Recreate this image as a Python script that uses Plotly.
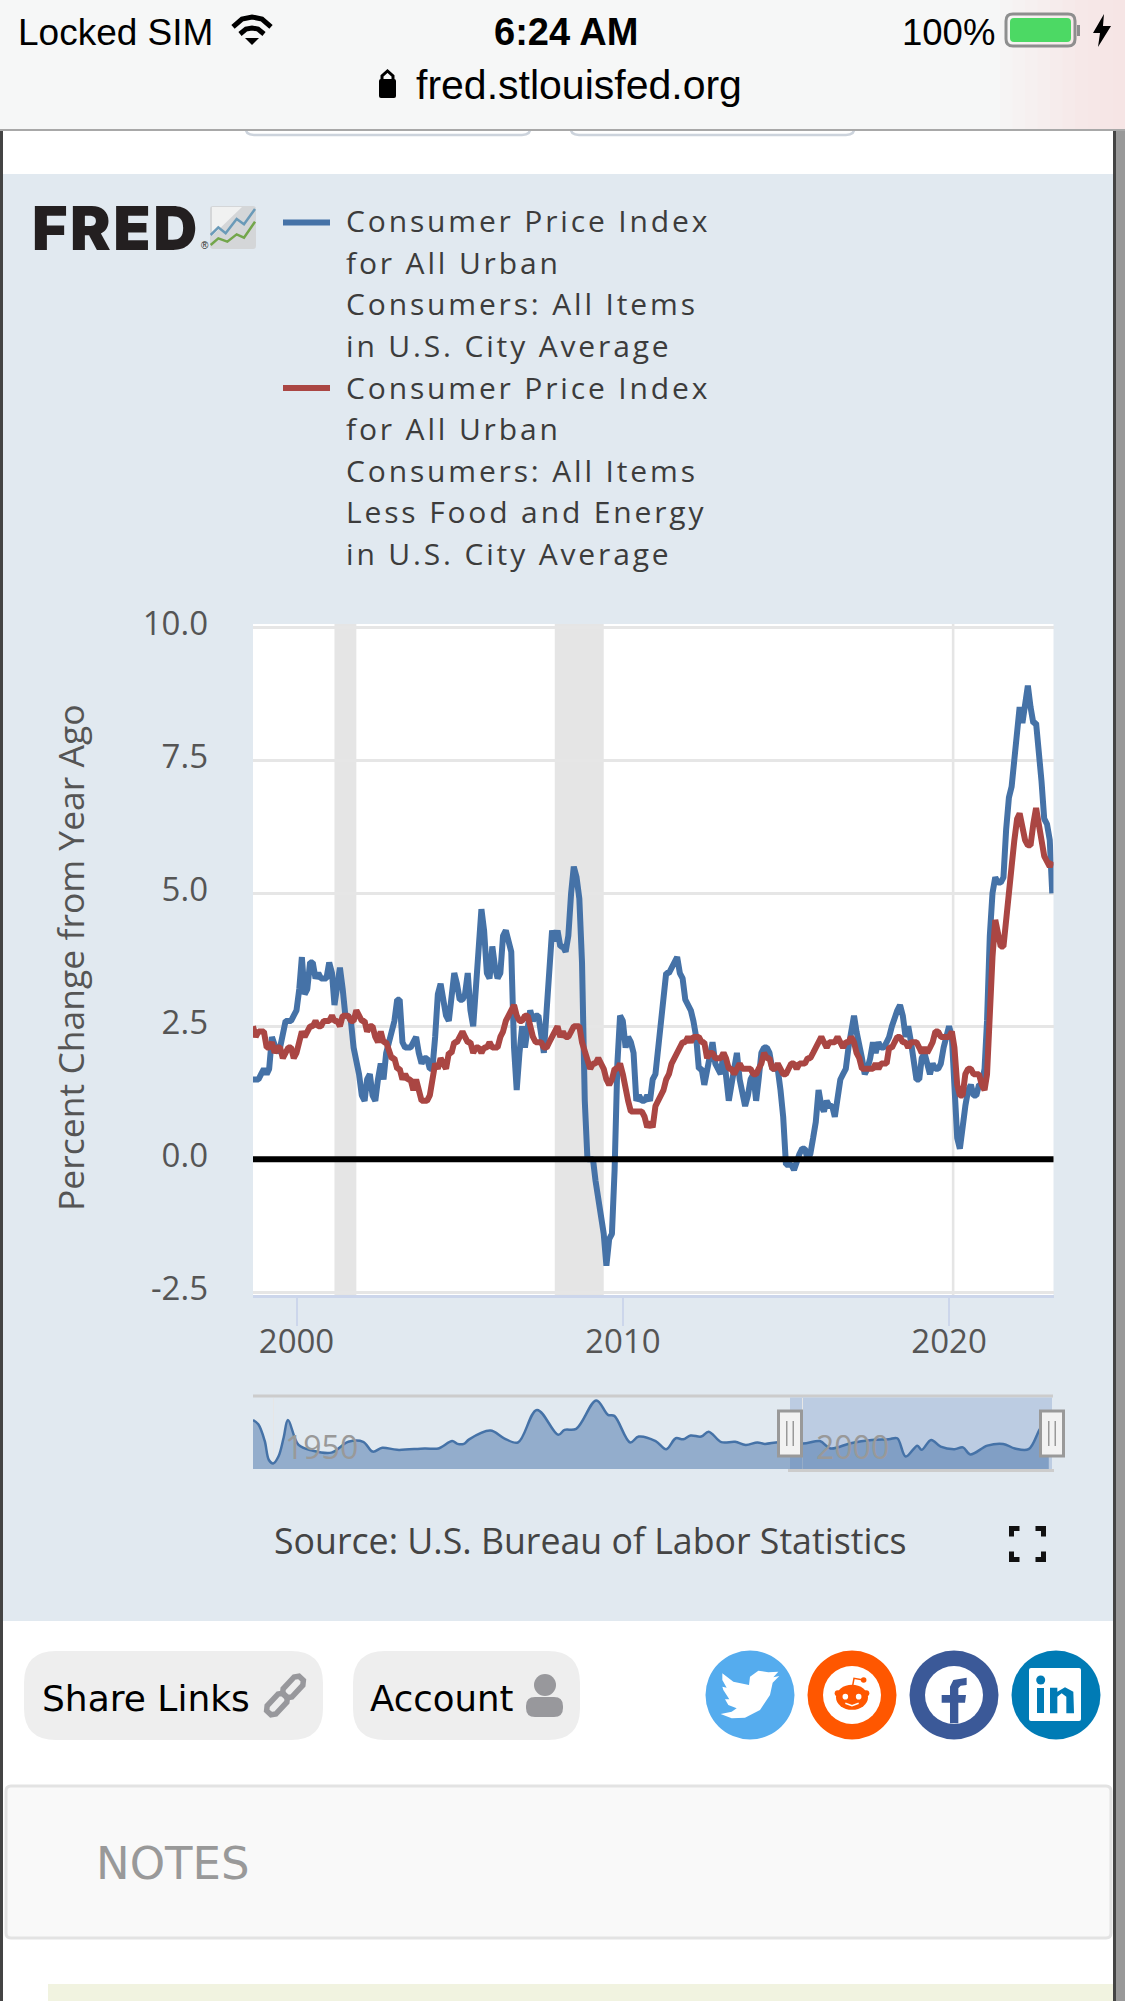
import math

import pandas as pd
import plotly.graph_objects as go

W, H = 1125, 2001

# Monthly percent change from year ago, Sep 1998 - Mar 2023
cpi_all = [
    1.5, 1.5, 1.5, 1.6,
    1.7, 1.6, 1.7, 2.3, 2.1, 2.0, 2.1, 2.3, 2.6, 2.6, 2.6, 2.7,
    2.8, 3.2, 3.8, 3.1, 3.2, 3.7, 3.7, 3.4, 3.5, 3.4, 3.4, 3.4,
    3.7, 3.5, 2.9, 3.3, 3.6, 3.2, 2.7, 2.7, 2.6, 2.1, 1.9, 1.6,
    1.2, 1.1, 1.5, 1.6, 1.2, 1.1, 1.5, 1.8, 1.5, 2.0, 2.2, 2.4,
    2.6, 3.0, 3.0, 2.2, 2.1, 2.1, 2.1, 2.2, 2.3, 2.0, 1.8, 1.9,
    1.9, 1.7, 1.7, 2.3, 3.1, 3.3, 3.0, 2.7, 2.6, 3.2, 3.5, 3.3,
    3.0, 3.0, 3.1, 3.5, 2.8, 2.5, 3.2, 3.6, 4.7, 4.3, 3.5, 3.4,
    4.0, 3.6, 3.4, 3.5, 4.2, 4.3, 4.1, 3.9, 2.1, 1.3, 2.0, 2.5,
    2.1, 2.4, 2.8, 2.6, 2.7, 2.7, 2.4, 2.0, 2.8, 3.5, 4.3, 4.1,
    4.3, 4.0, 4.0, 3.9, 4.2, 5.0, 5.5, 5.3, 4.9, 3.7, 1.1, 0.0,
    0.0, 0.0, -0.4, -0.7, -1.0, -1.4, -2.0, -1.5, -1.4, -0.2, 1.8, 2.7,
    2.6, 2.1, 2.3, 2.2, 2.0, 1.1, 1.2, 1.1, 1.1, 1.2, 1.1, 1.5,
    1.6, 2.1, 2.6, 3.1, 3.5, 3.5, 3.6, 3.7, 3.8, 3.5, 3.4, 3.0,
    2.9, 2.8, 2.6, 2.3, 1.7, 1.7, 1.4, 1.7, 2.0, 2.2, 1.8, 1.7,
    1.6, 2.0, 1.5, 1.1, 1.4, 1.8, 2.0, 1.5, 1.2, 1.0, 1.2, 1.5,
    1.6, 1.1, 1.5, 2.0, 2.1, 2.1, 2.0, 1.7, 1.7, 1.7, 1.3, 0.8,
    -0.1, -0.1, -0.1, -0.2, 0.0, 0.1, 0.2, 0.2, -0.0, 0.1, 0.4, 0.7,
    1.3, 1.0, 0.9, 1.1, 1.0, 1.0, 0.8, 1.1, 1.5, 1.6, 1.7, 2.1,
    2.5, 2.7, 2.4, 2.2, 1.9, 1.6, 1.7, 1.9, 2.2, 2.0, 2.2, 2.1,
    2.1, 2.2, 2.3, 2.5, 2.7, 2.8, 2.9, 2.7, 2.3, 2.5, 2.2, 1.9,
    1.5, 1.5, 1.9, 2.0, 1.8, 1.6, 1.8, 1.7, 1.7, 1.8, 2.1, 2.3,
    2.5, 2.3, 1.5, 0.4, 0.2, 0.7, 1.0, 1.3, 1.4, 1.2, 1.2, 1.4,
    1.4, 1.7, 2.6, 4.2, 5.0, 5.3, 5.2, 5.2, 5.3, 6.2, 6.8, 7.0,
    7.5, 7.9, 8.5, 8.2, 8.6, 8.9, 8.5, 8.2, 8.2, 7.7, 7.1, 6.4,
    6.3, 6.0, 5.0,
]
cpi_core = [
    2.5, 2.3, 2.4, 2.4,
    2.4, 2.1, 2.1, 2.2, 2.0, 2.1, 2.1, 1.9, 2.0, 2.1, 2.1, 1.9,
    2.0, 2.2, 2.4, 2.3, 2.4, 2.5, 2.5, 2.6, 2.5, 2.5, 2.6, 2.6,
    2.6, 2.7, 2.6, 2.6, 2.5, 2.7, 2.7, 2.7, 2.6, 2.6, 2.8, 2.7,
    2.6, 2.6, 2.4, 2.5, 2.5, 2.3, 2.2, 2.4, 2.2, 2.2, 2.0, 1.9,
    1.9, 1.7, 1.7, 1.5, 1.6, 1.5, 1.5, 1.3, 1.5, 1.3, 1.1, 1.1,
    1.1, 1.2, 1.6, 1.8, 1.7, 1.9, 1.8, 1.7, 2.0, 2.0, 2.2, 2.2,
    2.3, 2.4, 2.3, 2.2, 2.2, 2.0, 2.1, 2.1, 2.0, 2.1, 2.1, 2.2,
    2.1, 2.1, 2.1, 2.3, 2.4, 2.6, 2.7, 2.8, 2.9, 2.7, 2.6, 2.6,
    2.7, 2.7, 2.5, 2.3, 2.2, 2.2, 2.2, 2.1, 2.1, 2.2, 2.3, 2.4,
    2.5, 2.3, 2.4, 2.3, 2.3, 2.4, 2.5, 2.5, 2.5, 2.2, 2.0, 1.8,
    1.7, 1.8, 1.8, 1.9, 1.8, 1.7, 1.5, 1.4, 1.5, 1.7, 1.7, 1.8,
    1.6, 1.3, 1.1, 0.9, 0.9, 0.9, 0.9, 0.9, 0.8, 0.6, 0.7, 0.6,
    1.0, 1.1, 1.2, 1.3, 1.5, 1.6, 1.8, 1.9, 2.0, 2.1, 2.2, 2.2,
    2.3, 2.2, 2.3, 2.3, 2.3, 2.2, 2.2, 1.9, 2.0, 2.0, 1.9, 1.9,
    1.9, 2.0, 1.9, 1.7, 1.7, 1.6, 1.7, 1.8, 1.7, 1.7, 1.7, 1.7,
    1.6, 1.6, 1.7, 1.8, 2.0, 1.9, 1.9, 1.7, 1.7, 1.8, 1.7, 1.6,
    1.6, 1.7, 1.8, 1.8, 1.7, 1.8, 1.8, 1.8, 1.9, 1.9, 2.0, 2.1,
    2.2, 2.3, 2.2, 2.1, 2.2, 2.2, 2.2, 2.3, 2.2, 2.1, 2.2, 2.2,
    2.3, 2.2, 2.0, 1.9, 1.7, 1.7, 1.7, 1.7, 1.7, 1.8, 1.7, 1.8,
    1.8, 1.8, 2.1, 2.1, 2.2, 2.3, 2.3, 2.2, 2.2, 2.1, 2.2, 2.2,
    2.2, 2.1, 2.0, 2.1, 2.0, 2.1, 2.2, 2.4, 2.4, 2.3, 2.3, 2.3,
    2.3, 2.4, 2.1, 1.4, 1.2, 1.2, 1.6, 1.7, 1.7, 1.6, 1.6, 1.6,
    1.4, 1.3, 1.6, 3.0, 3.8, 4.5, 4.3, 4.0, 4.0, 4.6, 4.9, 5.5,
    6.0, 6.4, 6.5, 6.2, 6.0, 5.9, 5.9, 6.3, 6.6, 6.3, 6.0, 5.7,
    5.6, 5.5, 5.6,
]
months = pd.date_range("1998-09-01", periods=len(cpi_all), freq="MS")

# Recessions (grey bands)
recession_start = ["2001-03-01", "2007-12-01", "2020-02-01"]
recession_end = ["2001-11-01", "2009-06-01", "2020-03-01"]

# Small overview chart under the main one
nav_years = [
    1948.1, 1948.6, 1949.2, 1949.6, 1950.0, 1950.5, 1951.0, 1951.4, 1952.4, 1953.7,
    1955.5, 1957.1, 1958.5, 1959.4, 1960.3, 1961.7, 1964.3, 1965.6, 1966.9, 1967.4,
    1968.0, 1968.5, 1970.5, 1971.8, 1973.1, 1974.9, 1976.9, 1977.5, 1978.6, 1980.5,
    1981.6, 1982.2, 1983.7, 1984.5, 1986.1, 1987.1, 1988.0, 1988.7, 1989.4, 1990.4,
    1991.1, 1992.3, 1993.6, 1994.6, 1995.7, 1996.4, 1997.7, 1998.8, 2000.3, 2001.6,
    2002.6, 2004.5, 2006.5, 2008.1, 2008.9, 2009.7, 2010.8, 2011.2, 2012.1, 2013.0,
    2014.3, 2015.1, 2015.8, 2017.4, 2018.9, 2020.0, 2021.3, 2022.5, 2023.2,
]
nav_values = [
    9.4, 8.2, 3.5, -2.0, -3.0, -1.0, 4.5, 9.4, 2.3, 0.7,
    0.1, 3.2, 3.2, 0.4, 1.5, 0.9, 1.3, 1.3, 3.4, 2.6,
    2.6, 3.9, 6.4, 4.2, 3.0, 12.3, 5.2, 6.6, 6.9, 15.0,
    10.9, 10.6, 3.0, 4.7, 3.4, 1.1, 4.2, 3.9, 5.0, 4.7,
    6.1, 3.1, 3.2, 2.3, 3.0, 2.6, 3.1, 2.8, 2.8, 3.4,
    1.3, 2.8, 3.7, 3.9, 4.2, -1.0, 2.1, 0.9, 3.7, 1.8,
    1.1, 1.6, -0.4, 2.1, 2.6, 1.3, 1.1, 7.5, 9.0,
]

y_ticks = [-2.5, 0, 2.5, 5, 7.5, 10]
y_tick_labels = ["-2.5", "0.0", "2.5", "5.0", "7.5", "10.0"]
x_ticks = ["2000-01-01", "2010-01-01", "2020-01-01"]
x_tick_labels = ["2000", "2010", "2020"]

legend_all = ["Consumer Price Index", "for All Urban", "Consumers: All Items", "in U.S. City Average"]
legend_core = ["Consumer Price Index", "for All Urban", "Consumers: All Items",
               "Less Food and Energy", "in U.S. City Average"]

BLUE = "#4572A7"
RED = "#AA4643"
PANEL = "#E1E9F0"
GRID = "#E6E6E6"
AXIS = "#CCD6EB"
LEGEND_SIZE = 30


# Page pixels to paper coordinates
def px(x):
    return x / W


def py(y):
    return 1 - y / H


shapes = []
notes = []


def rect(x0, y0, x1, y1, fill, line=None, lw=0, layer="below"):
    shapes.append(dict(type="rect", xref="paper", yref="paper", x0=px(x0), x1=px(x1),
                       y0=py(y0), y1=py(y1), fillcolor=fill, layer=layer,
                       line=dict(color=line or fill, width=lw)))


def circle(cx, cy, rx, ry, fill, layer="below"):
    shapes.append(dict(type="circle", xref="paper", yref="paper", x0=px(cx - rx), x1=px(cx + rx),
                       y0=py(cy - ry), y1=py(cy + ry), fillcolor=fill, layer=layer,
                       line=dict(width=0)))


def poly(points, fill=None, line=None, lw=0, closed=True, layer="below"):
    d = "M" + " L".join(f"{px(a):.5f},{py(b):.5f}" for a, b in points) + (" Z" if closed else "")
    shapes.append(dict(type="path", xref="paper", yref="paper", path=d, layer=layer,
                       fillcolor=fill or "rgba(0,0,0,0)", line=dict(color=line or "rgba(0,0,0,0)", width=lw)))


def round_box(x0, y0, x1, y1, r, fill, line=None, lw=0, layer="below"):
    def c(a, b):
        return f"{px(a):.5f},{py(b):.5f}"
    d = (f"M{c(x0 + r, y0)} L{c(x1 - r, y0)} Q{c(x1, y0)} {c(x1, y0 + r)} L{c(x1, y1 - r)} "
         f"Q{c(x1, y1)} {c(x1 - r, y1)} L{c(x0 + r, y1)} Q{c(x0, y1)} {c(x0, y1 - r)} "
         f"L{c(x0, y0 + r)} Q{c(x0, y0)} {c(x0 + r, y0)} Z")
    shapes.append(dict(type="path", xref="paper", yref="paper", path=d, layer=layer,
                       fillcolor=fill, line=dict(color=line or fill, width=lw)))


def text(x, y, s, size, color, family="Open Sans", anchor="left", weight=None, angle=0):
    font = dict(size=size, color=color, family=family)
    if weight:
        font["weight"] = weight
    notes.append(dict(xref="paper", yref="paper", x=px(x), y=py(y), text=s, showarrow=False,
                      xanchor=anchor, yanchor="middle", align=anchor, font=font, textangle=angle,
                      borderpad=0, borderwidth=0))


def crop(points, ox, oy):
    return [(ox + a / 3, oy + b / 3) for a, b in points]


# One oblong chain link for the share icon
def chain_link(cx, cy):
    ang = math.radians(47)
    ux, uy = math.cos(ang), -math.sin(ang)
    nx, ny = -uy, ux
    pts = []
    for along, across in [(-12, -3), (-8, -6), (8, -6), (12, -3), (12, 3), (8, 6), (-8, 6), (-12, 3)]:
        pts.append((cx + along * ux + across * nx, cy + along * uy + across * ny))
    poly(pts, line="#98989C", lw=5.5)


# Page background, panel and the phone edges
round_box(245, 100, 531, 135, 9, "#FFFFFF", "#CCD3DC", 2.5)
round_box(570, 100, 855, 135, 9, "#FFFFFF", "#CCD3DC", 2.5)
rect(3, 174, 1113, 1621, PANEL)
rect(253, 624, 1053.5, 1295, "#FFFFFF")
rect(0, 130, 3, H, "#444444")
rect(1113, 130, 1116, H, "#444444")
rect(1116, 130, W, H, "#999999")

# Status bar
rect(0, 0, W, 130, "#F6F7F7")
for i in range(10):
    rect(1000 + i * 12.5, 0, W, 130, "rgba(250,225,218,0.09)")
rect(0, 129, W, 131, "#A8A8A8")
text(18, 32, "Locked SIM", 37, "#000000", "Liberation Sans")
text(566, 32, "6:24 AM", 38, "#000000", "Liberation Sans", "center", 700)
text(995, 32, "100%", 36.5, "#000000", "Liberation Sans", "right")
text(579, 85, "fred.stlouisfed.org", 41, "#000000", "Liberation Sans", "center")

poly([(233, 27), (242, 19), (252, 17), (262, 19), (271, 27)], line="#000000", lw=5, closed=False)
poly([(240, 34), (246, 29), (252, 28), (258, 29), (264, 34)], line="#000000", lw=5, closed=False)
poly([(245, 38), (259, 38), (252, 45)], fill="#000000")

round_box(1006, 14, 1075, 46, 7, "rgba(0,0,0,0)", "#8E8E8E", 3)
round_box(1010, 18, 1071, 42, 4, "#4CD964")
rect(1077, 25, 1080, 36, "#8E8E8E")
poly([(1104, 14), (1093, 33), (1100, 33), (1098, 47), (1111, 26), (1103, 26)], fill="#000000")

round_box(379, 79, 396, 98, 2, "#000000")
poly([(382, 80), (382, 76), (387.5, 71), (393, 76), (393, 80)], line="#000000", lw=3, closed=False)

# FRED logo
text(32, 228, "FRED", 61, "#231F20", "Inter", "left", 900)
text(201, 245, "®", 10, "#231F20", "Liberation Sans")
round_box(210, 206, 256, 249, 3, "#D4D6D8")
poly([(212, 207), (242, 207), (212, 236)], fill="rgba(255,255,255,0.65)")
poly(crop([(572, 120), (595, 97), (617, 115), (650, 72), (672, 88), (705, 42)], 20, 195),
     line="#6A9AB8", lw=2.5, closed=False)
poly(crop([(572, 150), (595, 130), (622, 140), (650, 118), (672, 128), (705, 80)], 20, 195),
     line="#73A64B", lw=2.5, closed=False)

# Legend
rect(283, 219.5, 330, 225.5, BLUE)
rect(283, 385, 330, 391, RED)
for i, line_text in enumerate(legend_all):
    text(346, 220.6 + i * 41.6, line_text, LEGEND_SIZE, "#3C3C3C")
for i, line_text in enumerate(legend_core):
    text(346, 387 + i * 41.6, line_text, LEGEND_SIZE, "#3C3C3C")

# Y axis title and source line
text(70, 958, "Percent Change from Year Ago", 35.5, "#555555", anchor="center", angle=-90)
text(274, 1540, "Source: U.S. Bureau of Labor Statistics", 35.7, "#444444")

# Overview chart frame and selection
rect(253, 1394.5, 1053, 1397.5, "#CCCCCC")
rect(790, 1397.5, 1052, 1469, "#BCCCE2")
rect(788, 1469, 1054, 1472, "#CCCCCC")
text(285, 1446, "1950", 32, "#999999")
text(816, 1446, "2000", 32, "#999999")
for hx in [790, 1052]:
    rect(hx - 11.5, 1411, hx + 11.5, 1456, "#F2F2F2", "#999999", 3, "above")
    rect(hx - 4, 1421, hx - 2.5, 1446, "#999999", layer="above")
    rect(hx + 2.5, 1421, hx + 4, 1446, "#999999", layer="above")

# Fullscreen icon
for a, b, sx, sy in [(1011.5, 1528.5, 1, 1), (1043.5, 1528.5, -1, 1), (1011.5, 1559.5, 1, -1), (1043.5, 1559.5, -1, -1)]:
    poly([(a, b + sy * 8), (a, b), (a + sx * 8, b)], line="#111111", lw=5, closed=False)

# Buttons
round_box(24, 1651, 323, 1740, 32, "#EEEEEE")
round_box(353, 1651, 580, 1740, 32, "#EEEEEE")
text(42, 1698, "Share Links", 36, "#000000", "DejaVu Sans")
text(370, 1698, "Account", 35.5, "#000000", "DejaVu Sans")
chain_link(277, 1704)
chain_link(293, 1687)
circle(545, 1685, 11, 11, "#98989C")
round_box(526, 1697, 563, 1717, 9, "#98989C")

# Twitter
circle(750, 1695, 44.5, 44.5, "#55ACEE")
poly(crop([(97, 100), (130, 125), (177, 135), (180, 110), (205, 92), (235, 97), (265, 95), (250, 112),
           (268, 108), (248, 128), (240, 165), (210, 210), (165, 233), (125, 235), (92, 222),
           (125, 215), (140, 205), (115, 195), (105, 178), (118, 178), (100, 150), (97, 140),
           (110, 143), (97, 120)], 690, 1640), fill="#FFFFFF")
# Reddit
circle(852, 1695, 44.5, 44.5, "#FF5700")
circle(852, 1695, 29, 29, "#FFFFFF")
for a, b, r in [(443, 160, 9), (529, 160, 9)]:
    circle(690 + a / 3, 1640 + b / 3, r / 3, r / 3, "#FF5700")
circle(690 + 486 / 3, 1640 + 172 / 3, 16, 12.5, "#FF5700")
circle(690 + 466 / 3, 1640 + 170 / 3, 2.8, 2.8, "#FFFFFF")
circle(690 + 506 / 3, 1640 + 170 / 3, 2.8, 2.8, "#FFFFFF")
poly(crop([(466, 190), (486, 197), (506, 190)], 690, 1640), line="#FFFFFF", lw=1.5, closed=False)
poly(crop([(486, 148), (492, 115), (520, 120)], 690, 1640), line="#FF5700", lw=1.5, closed=False)
circle(690 + 521 / 3, 1640 + 120 / 3, 2.8, 2.8, "#FF5700")
# Facebook
circle(954, 1695, 44.5, 44.5, "#3B5998")
circle(954, 1695, 29, 29, "#FFFFFF")
poly(crop([(780, 250), (780, 188), (755, 188), (755, 165), (780, 165), (780, 140), (790, 120), (830, 113),
           (830, 135), (812, 137), (805, 145), (805, 165), (828, 165), (825, 188), (805, 188), (805, 250)],
          690, 1640), fill="#3B5998")
# LinkedIn
circle(1056, 1695, 44.5, 44.5, "#007BB5")
round_box(1029, 1668, 1081, 1721, 2, "#FFFFFF")
circle(1040.7, 1680, 4.5, 4.5, "#007BB5")
rect(1037, 1688, 1044, 1713, "#007BB5")
poly(crop([(1080, 143), (1102, 143), (1102, 155), (1125, 142), (1150, 155), (1152, 220), (1129, 220),
           (1129, 170), (1115, 160), (1102, 170), (1102, 220), (1080, 220)], 690, 1640), fill="#007BB5")

# Notes box
round_box(6, 1786, 1111, 1938, 5, "#F9F9F9", "#E3E3E3", 3)
text(96, 1863, "NOTES", 45, "#999999", "DejaVu Sans")
rect(48, 1984, 1113, H, "#F1F3E0")

# Recession bands and the black zero line live on the data axes
for start, end in zip(recession_start, recession_end):
    shapes.append(dict(type="rect", xref="x", yref="y", x0=start, x1=end, y0=-2.55, y1=10.06,
                       fillcolor="#E5E5E5", line=dict(width=0), layer="below"))
shapes.append(dict(type="line", xref="paper", yref="y", x0=px(253), x1=px(1053.5), y0=0, y1=0,
                   line=dict(color="#000000", width=6), layer="above"))

fig = go.Figure()
fig.add_trace(go.Scatter(x=months, y=cpi_all, mode="lines", line=dict(color=BLUE, width=6), xaxis="x", yaxis="y"))
fig.add_trace(go.Scatter(x=months, y=cpi_core, mode="lines", line=dict(color=RED, width=6), xaxis="x", yaxis="y"))

# Overview: flat floor first so the area can fill down to it
nav_floor = [-4.57] * len(nav_years)
fig.add_trace(go.Scatter(x=nav_years, y=nav_floor, mode="lines", line=dict(width=0), xaxis="x2", yaxis="y2"))
fig.add_trace(go.Scatter(x=nav_years, y=nav_values, mode="lines", fill="tonexty",
                         fillcolor="rgba(69,114,167,0.5)", line=dict(color=BLUE, width=2.5, shape="spline"),
                         xaxis="x2", yaxis="y2"))

fig.update_layout(
    width=W, height=H, autosize=False,
    margin=dict(l=0, r=0, t=0, b=0, pad=0),
    paper_bgcolor="#FFFFFF",
    plot_bgcolor="rgba(0,0,0,0)",
    showlegend=False,
    shapes=shapes,
    annotations=notes,
    xaxis=dict(
        domain=[px(253), px(1053.5)], range=["1998-09-01", "2023-03-15"], type="date", automargin=False,
        tickmode="array", tickvals=x_ticks, ticktext=x_tick_labels,
        tickfont=dict(family="Open Sans", size=33, color="#555555"),
        showgrid=False, zeroline=False, showline=True, linecolor=AXIS, linewidth=3,
        ticks="outside", ticklen=28, tickcolor=AXIS, tickwidth=2, anchor="y", ticklabelstandoff=-13,
    ),
    yaxis=dict(
        domain=[py(1295), py(624)], range=[-2.55, 10.06], automargin=False,
        tickmode="array", tickvals=y_ticks, ticktext=y_tick_labels,
        tickfont=dict(family="Open Sans", size=33, color="#555555"),
        showgrid=True, gridcolor=GRID, gridwidth=3, zeroline=False, showline=False,
        ticks="", ticklabelstandoff=44, ticklabelshift=-4, anchor="x",
    ),
    xaxis2=dict(
        domain=[px(253), px(1053)], range=[1948.1, 2023.6], anchor="y2", automargin=False,
        tickmode="array", tickvals=[1950, 2000], showticklabels=False,
        showgrid=True, gridcolor=GRID, gridwidth=1, zeroline=False, showline=False, ticks="",
    ),
    yaxis2=dict(
        domain=[py(1469), py(1398)], range=[-4.57, 15.7], anchor="x2", automargin=False,
        showticklabels=False, showgrid=False, zeroline=False, showline=False, ticks="",
    ),
)

# Body margin off, letter spacing on the legend and logo, flat line joins on the two main series
post = f"""
document.body.style.margin = '0';
document.querySelectorAll('.annotation-text').forEach(function (t) {{
  if (t.style.fontSize === '{LEGEND_SIZE}px' && t.style.fontFamily.indexOf('Open Sans') >= 0) {{
    t.style.letterSpacing = '2.85px';
  }}
  if (t.textContent === 'FRED') {{
    t.style.letterSpacing = '2.5px';
  }}
}});
document.querySelectorAll('.scatterlayer .trace').forEach(function (t, i) {{
  if (i < 2) {{
    t.querySelectorAll('.js-line').forEach(function (l) {{ l.style.strokeLinejoin = 'bevel'; }});
  }}
}});
"""
fig.write_html("out.html", post_script=post, config={"displayModeBar": False})
